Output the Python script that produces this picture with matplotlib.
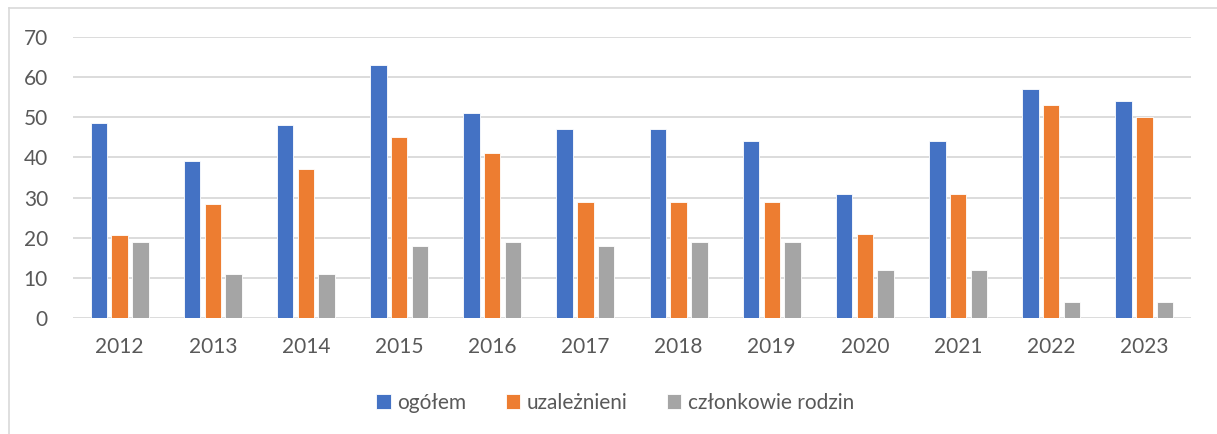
import matplotlib
matplotlib.use("Agg")
import matplotlib.pyplot as plt
import numpy as np
from matplotlib.lines import Line2D

years = ["2012", "2013", "2014", "2015", "2016", "2017", "2018", "2019", "2020", "2021", "2022", "2023"]
ogolem = [48.5, 39, 48, 63, 51, 47, 47, 44, 31, 44, 57, 54]
uzaleznieni = [20.6, 28.3, 37, 45, 41, 29, 29, 29, 21, 31, 53, 50]
czlonkowie = [19, 11, 11, 18, 19, 18, 19, 19, 12, 12, 4, 4]
series_names = ["ogółem", "uzależnieni", "członkowie rodzin"]
colors = ["#4472C4", "#ED7D31", "#A5A5A5"]

plt.rcParams['font.family'] = ['Lato', 'DejaVu Sans']
txt = "#595959"

W, H = 1217, 434
fig = plt.figure(figsize=(W / 100, H / 100), dpi=100)
ax = fig.add_axes([73 / W, (H - 318) / H, (1191 - 73) / W, (318 - 37) / H])

x = np.arange(len(years))
bw = 0.177
step = 0.222
for i, (vals, name, c) in enumerate(zip([ogolem, uzaleznieni, czlonkowie], series_names, colors)):
    ax.bar(x + (i - 1) * step, vals, width=bw, color=c, label=name,
           edgecolor="white", linewidth=0.6, zorder=3)

ax.set_xlim(-0.5, len(years) - 0.5)
ax.set_ylim(0, 70)
ax.set_yticks(range(0, 71, 10))
ax.set_xticks(x)
ax.set_xticklabels(years)
ax.yaxis.grid(True, color="#D9D9D9", linewidth=1.3, zorder=0)
ax.set_axisbelow(True)
for s in ax.spines.values():
    s.set_visible(False)
ax.tick_params(axis="both", length=0, colors=txt, labelsize=15)
ax.tick_params(axis="y", pad=18)
ax.tick_params(axis="x", pad=14)

leg = fig.legend(loc="center", bbox_to_anchor=(615 / W, 1 - 403 / H), ncol=3,
                 frameon=False, fontsize=15, handlelength=0.7, handleheight=0.7,
                 handletextpad=0.3, columnspacing=1.9, labelcolor=txt)

# outer chart frame (left and top visible)
fig.add_artist(Line2D([9 / W, 9 / W], [0, 1 - 8 / H], transform=fig.transFigure,
                      color="#D9D9D9", linewidth=1.2))
fig.add_artist(Line2D([9 / W, 1], [1 - 8 / H, 1 - 8 / H], transform=fig.transFigure,
                      color="#D9D9D9", linewidth=1.2))

fig.savefig("out.png", dpi=100)
